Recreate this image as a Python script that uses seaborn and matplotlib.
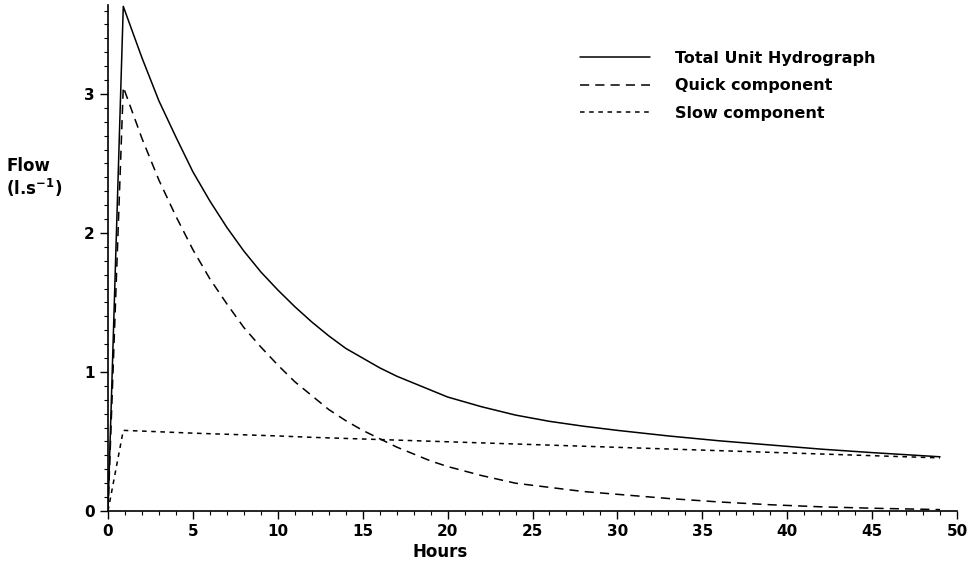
import matplotlib
matplotlib.use("Agg")
import matplotlib.pyplot as plt
import seaborn as sns
import pandas as pd
from matplotlib.ticker import MultipleLocator

hours = [0, 0.9, 2, 3, 4, 5, 6, 7, 8, 9, 10, 11, 12, 13, 14, 15, 16, 17, 18, 19, 20,
         22, 24, 26, 28, 30, 33, 36, 39, 42, 45, 49]
total = [0, 3.63, 3.26, 2.95, 2.69, 2.44, 2.23, 2.04, 1.87, 1.72, 1.59, 1.47, 1.36, 1.26,
         1.17, 1.10, 1.03, 0.97, 0.92, 0.87, 0.82, 0.75, 0.69, 0.645, 0.61, 0.58, 0.54,
         0.505, 0.475, 0.445, 0.42, 0.39]
quick = [0, 3.05, 2.68, 2.38, 2.12, 1.88, 1.67, 1.49, 1.32, 1.18, 1.05, 0.93, 0.83, 0.73,
         0.65, 0.58, 0.52, 0.46, 0.41, 0.36, 0.32, 0.255, 0.20, 0.17, 0.14, 0.12, 0.09,
         0.065, 0.045, 0.03, 0.02, 0.01]
slow = [0, 0.58, 0.575, 0.57, 0.565, 0.56, 0.556, 0.552, 0.548, 0.544, 0.54, 0.535, 0.53,
        0.526, 0.522, 0.518, 0.514, 0.51, 0.506, 0.502, 0.498, 0.49, 0.482, 0.474, 0.466,
        0.458, 0.446, 0.434, 0.422, 0.41, 0.398, 0.382]
series_names = ["Total Unit Hydrograph", "Quick component", "Slow component"]
x_ticks = [0, 5, 10, 15, 20, 25, 30, 35, 40, 45, 50]
y_ticks = [0, 1, 2, 3]

sns.set_style("ticks")
plt.rcParams["font.family"] = ["DejaVu Sans"]
plt.rcParams["font.weight"] = "bold"
plt.rcParams["text.color"] = "black"
plt.rcParams["xtick.color"] = "black"
plt.rcParams["ytick.color"] = "black"
plt.rcParams["axes.edgecolor"] = "black"

fig = plt.figure(figsize=(9.77, 5.68), dpi=100)
ax = fig.add_axes([108 / 977, 1 - 511 / 568, 849 / 977, 506 / 568])

df = pd.DataFrame({"Hours": hours, "total": total, "quick": quick, "slow": slow})
sns.lineplot(data=df, x="Hours", y="total", ax=ax, color="black", linewidth=1.1,
             linestyle="-", label=series_names[0])
sns.lineplot(data=df, x="Hours", y="quick", ax=ax, color="black", linewidth=1.1,
             linestyle=(0, (6, 4)), label=series_names[1])
sns.lineplot(data=df, x="Hours", y="slow", ax=ax, color="black", linewidth=1.1,
             linestyle=(0, (3, 3)), label=series_names[2])

ax.set_xlim(0, 50)
ax.set_ylim(0, 3.64)
ax.set_xticks(x_ticks)
ax.set_yticks(y_ticks)
ax.xaxis.set_minor_locator(MultipleLocator(1))
ax.yaxis.set_minor_locator(MultipleLocator(0.1))
ax.tick_params(axis="both", which="major", length=6, width=1.0, labelsize=11,
               direction="out", colors="black")
ax.tick_params(axis="both", which="minor", length=3, width=0.8, direction="out",
               colors="black")
for lab in ax.get_xticklabels() + ax.get_yticklabels():
    lab.set_fontweight("bold")
ax.spines["top"].set_visible(False)
ax.spines["right"].set_visible(False)
ax.spines["left"].set_linewidth(1.2)
ax.spines["bottom"].set_linewidth(1.2)
ax.set_xlabel("")
ax.set_ylabel("")

fig.text(440 / 977, 1 - 552 / 568, "Hours", ha="center", va="center", fontsize=12,
         fontweight="bold")
fig.text(6 / 977, 1 - 166 / 568, "Flow", ha="left", va="center", fontsize=12,
         fontweight="bold")
fig.text(6 / 977, 1 - 188 / 568, "(l.s$^{\\mathbf{-1}}$)", ha="left", va="center",
         fontsize=12, fontweight="bold")

leg = ax.legend(loc="upper left", bbox_to_anchor=((580 - 108) / 849, 1 - 46 / 506),
                frameon=False, fontsize=11.5, handlelength=4.4, handletextpad=1.55,
                labelspacing=0.78, borderaxespad=0, borderpad=0)
for t in leg.get_texts():
    t.set_fontweight("bold")
    t.set_color("black")

fig.savefig("out.png", dpi=100, facecolor="white")
